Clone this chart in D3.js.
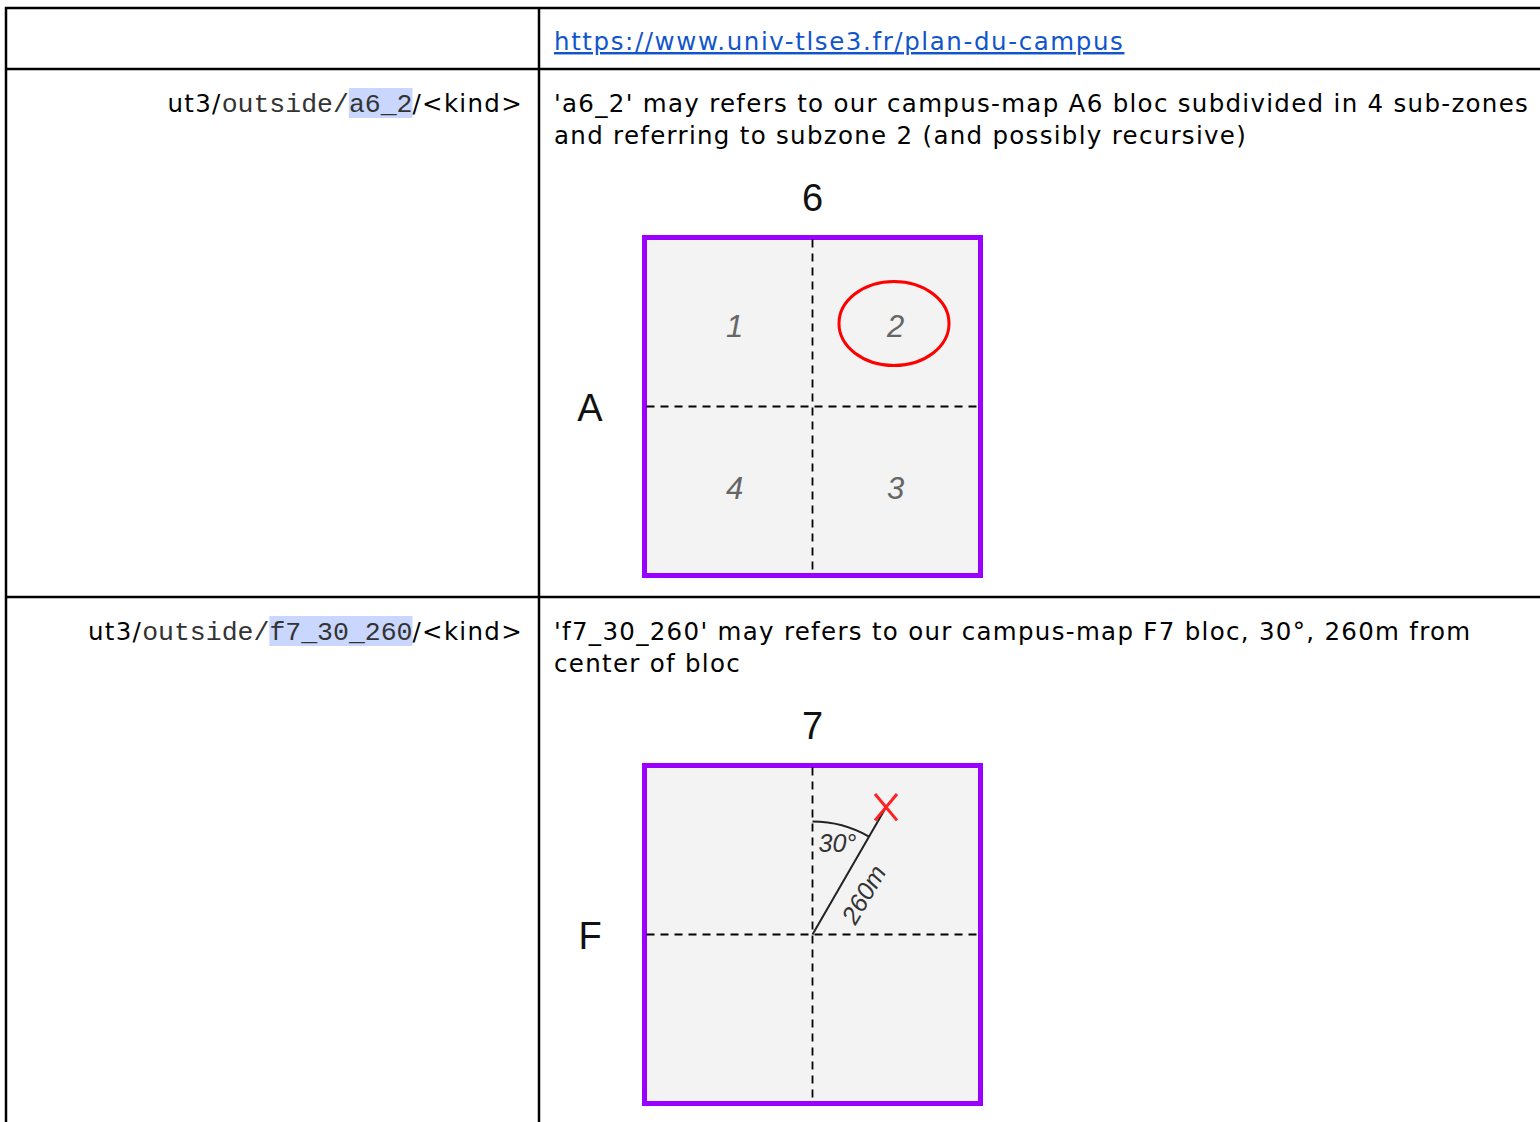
<!DOCTYPE html>
<html>
<head>
<meta charset="utf-8">
<script src="https://cdn.jsdelivr.net/npm/d3@7"></script>
<style>
  body { margin: 0; background: #fff; }
</style>
</head>
<body>
<div class="chart"></div>
<script>
// table content
var linkText = "https://www.univ-tlse3.fr/plan-du-campus";
var pathPrefix = ["ut3/", "ut3/"];
var pathMiddle = ["outside/", "outside/"];
var pathCodes = ["a6_2", "f7_30_260"];
var pathSuffix = ["/<kind>", "/<kind>"];
var descriptions = [
  ["'a6_2' may refers to our campus-map A6 bloc subdivided in 4 sub-zones",
   "and referring to subzone 2 (and possibly recursive)"],
  ["'f7_30_260' may refers to our campus-map F7 bloc, 30°, 260m from",
   "center of bloc"]
];

// diagram content
var columnLabels = ["6", "7"];
var rowLabels = ["A", "F"];
var zoneNames = ["1", "2", "3", "4"];
var zoneCols = [0, 1, 1, 0];
var zoneRows = [0, 0, 1, 1];
var selectedZone = "2";
var bearingDeg = 30;
var distanceM = 260;

// SVG container
var svgWidth = 1540;
var svgHeight = 1122;

var sans = "'DejaVu Sans', Verdana, sans-serif";
var sansSize = "24.5px";
var sansSpacing = "1.3px";
var mono = "'Liberation Mono', 'Courier New', monospace";
var arial = "'Liberation Sans', Arial, sans-serif";

var svg = d3.select(".chart")
  .append("svg")
  .attr("width", svgWidth)
  .attr("height", svgHeight);

// table grid
var rowLines = [8, 69, 597];
var colLines = [6, 539];
var tableGroup = svg.append("g");

tableGroup.selectAll(".hline")
  .data(rowLines)
  .enter()
  .append("line")
  .attr("x1", 5)
  .attr("x2", svgWidth)
  .attr("y1", d => d)
  .attr("y2", d => d)
  .attr("stroke", "#000")
  .attr("stroke-width", 2.5);

tableGroup.selectAll(".vline")
  .data(colLines)
  .enter()
  .append("line")
  .attr("x1", d => d)
  .attr("x2", d => d)
  .attr("y1", 7)
  .attr("y2", svgHeight)
  .attr("stroke", "#000")
  .attr("stroke-width", 2.5);

// link in header row
tableGroup.append("text")
  .attr("x", 554)
  .attr("y", 50)
  .attr("font-family", sans)
  .attr("font-size", sansSize)
  .attr("letter-spacing", "1.6px")
  .attr("fill", "#1155cc")
  .attr("text-decoration", "underline")
  .text(linkText);

var rowTop = [69, 597];

rowTop.forEach(function(top, i) {
  var baseline = top + 43;

  // left column: pieces drawn right to left, right aligned
  var pieces = [
    {t: pathSuffix[i], f: sans, s: sansSize, ls: sansSpacing, c: "#000", hl: false},
    {t: pathCodes[i], f: mono, s: "26.5px", ls: "0px", c: "#333", hl: true},
    {t: pathMiddle[i], f: mono, s: "26.5px", ls: "0px", c: "#333", hl: false},
    {t: pathPrefix[i], f: sans, s: sansSize, ls: sansSpacing, c: "#000", hl: false}
  ];
  var xRight = 523;
  pieces.forEach(function(p) {
    var t = tableGroup.append("text")
      .attr("x", xRight)
      .attr("y", baseline)
      .attr("text-anchor", "end")
      .attr("font-family", p.f)
      .attr("font-size", p.s)
      .attr("letter-spacing", p.ls)
      .attr("fill", p.c)
      .text(p.t);
    var w = t.node().getBBox().width;
    if (p.hl) {
      tableGroup.insert("rect", "text")
        .attr("x", xRight - w)
        .attr("y", baseline - 24)
        .attr("width", w)
        .attr("height", 30)
        .attr("fill", "#c9d7fe");
    }
    xRight -= w;
  });

  // right column description
  descriptions[i].forEach(function(line, j) {
    tableGroup.append("text")
      .attr("x", 554)
      .attr("y", baseline + j * 32)
      .attr("font-family", sans)
      .attr("font-size", sansSize)
      .attr("letter-spacing", sansSpacing)
      .attr("fill", "#000")
      .text(line);
  });
});

// diagrams
var gx = d3.scaleLinear().domain([0, 2]).range([644.5, 980.5]);
var diagramTop = [237.5, 765.5];

diagramTop.forEach(function(top, i) {
  var gy = d3.scaleLinear().domain([0, 2]).range([top, top + 338]);
  var g = svg.append("g");

  g.append("rect")
    .attr("x", gx(0))
    .attr("y", gy(0))
    .attr("width", gx(2) - gx(0))
    .attr("height", gy(2) - gy(0))
    .attr("fill", "#f3f3f3")
    .attr("stroke", "#9900ff")
    .attr("stroke-width", 5);

  // dashed sub-division lines
  g.append("line")
    .attr("x1", gx(1)).attr("x2", gx(1))
    .attr("y1", gy(0) + 2).attr("y2", gy(2) - 2)
    .attr("stroke", "#000")
    .attr("stroke-width", 1.8)
    .attr("stroke-dasharray", "8,6");
  g.append("line")
    .attr("x1", gx(0) + 2).attr("x2", gx(2) - 2)
    .attr("y1", gy(1)).attr("y2", gy(1))
    .attr("stroke", "#000")
    .attr("stroke-width", 1.8)
    .attr("stroke-dasharray", "8,6");

  // column / row labels
  g.append("text")
    .attr("x", gx(1))
    .attr("y", gy(0) - 27)
    .attr("text-anchor", "middle")
    .attr("font-family", arial)
    .attr("font-size", "38px")
    .attr("fill", "#111")
    .text(columnLabels[i]);
  g.append("text")
    .attr("x", 590)
    .attr("y", gy(1) + 14)
    .attr("text-anchor", "middle")
    .attr("font-family", arial)
    .attr("font-size", "38px")
    .attr("fill", "#111")
    .text(rowLabels[i]);

  if (i === 0) {
    // sub-zone numbers
    g.selectAll(".zone")
      .data(zoneNames)
      .enter()
      .append("text")
      .attr("x", (d, k) => gx(zoneCols[k] + 0.5) + (zoneCols[k] === 0 ? 6 : -1))
      .attr("y", (d, k) => gy(zoneRows[k] + 0.5) + 11 - (zoneRows[k] === 1 ? 3 : -4))
      .attr("text-anchor", "middle")
      .attr("font-family", arial)
      .attr("font-style", "italic")
      .attr("font-size", "31px")
      .attr("fill", "#666")
      .text(d => d);

    var k = zoneNames.indexOf(selectedZone);
    g.append("ellipse")
      .attr("cx", gx(zoneCols[k] + 0.5) - 2.5)
      .attr("cy", gy(zoneRows[k] + 0.5) + 1.5)
      .attr("rx", 55)
      .attr("ry", 42)
      .attr("fill", "none")
      .attr("stroke", "#ff0000")
      .attr("stroke-width", 3);
  } else {
    // bearing + distance from bloc center
    var r = d3.scaleLinear().domain([0, distanceM]).range([0, 147]);
    var cx = gx(1), cy = gy(1);
    var a = bearingDeg * Math.PI / 180;
    var px = cx + r(distanceM) * Math.sin(a);
    var py = cy - r(distanceM) * Math.cos(a);

    g.append("line")
      .attr("x1", cx).attr("y1", cy)
      .attr("x2", px).attr("y2", py)
      .attr("stroke", "#222")
      .attr("stroke-width", 2);

    var arc = d3.arc()
      .innerRadius(r(200))
      .outerRadius(r(200))
      .startAngle(0)
      .endAngle(a);
    g.append("path")
      .attr("transform", `translate(${cx},${cy})`)
      .attr("d", arc())
      .attr("fill", "none")
      .attr("stroke", "#222")
      .attr("stroke-width", 2);

    g.append("text")
      .attr("x", cx + 6)
      .attr("y", cy - r(200) + 31)
      .attr("font-family", arial)
      .attr("font-style", "italic")
      .attr("font-size", "25px")
      .attr("fill", "#333")
      .text(bearingDeg + "°");

    // label sits beside the line, on its lower-right side
    var f = 0.41, off = 24;
    var mx = cx + r(distanceM * f) * Math.sin(a) + off * Math.cos(a);
    var my = cy - r(distanceM * f) * Math.cos(a) + off * Math.sin(a);
    g.append("text")
      .attr("transform", `translate(${mx},${my}) rotate(${bearingDeg - 90})`)
      .attr("text-anchor", "middle")
      .attr("dominant-baseline", "central")
      .attr("font-family", arial)
      .attr("font-style", "italic")
      .attr("font-size", "25px")
      .attr("fill", "#333")
      .text(distanceM + "m");

    // red cross at the target point
    var s = 11;
    [[-1, -1, 1, 1], [1, -1, -1, 1]].forEach(function(c) {
      g.append("line")
        .attr("x1", px + c[0] * s).attr("y1", py + c[1] * 1.2 * s)
        .attr("x2", px + c[2] * s).attr("y2", py + c[3] * 1.2 * s)
        .attr("stroke", "#ff2020")
        .attr("stroke-width", 3);
    });
  }
});
</script>
</body>
</html>
